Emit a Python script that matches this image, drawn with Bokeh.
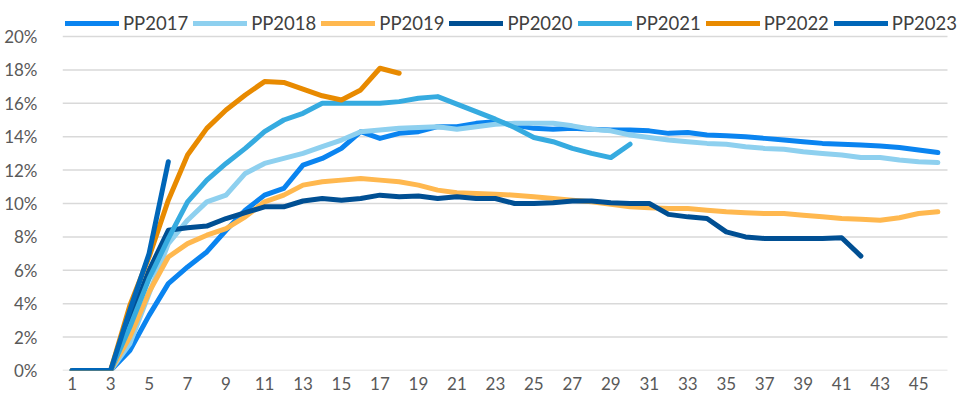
from bokeh.plotting import figure
from bokeh.models import FixedTicker, PrintfTickFormatter, Legend, LegendItem, Range1d
from bokeh.embed import file_html
from bokeh.resources import INLINE

periods = list(range(1, 47))
x_ticks = list(range(1, 47, 2))
y_ticks = list(range(0, 21, 2))

pp2017 = [0, 0, 0, 1.2, 3.3, 5.2, 6.2, 7.1, 8.4, 9.6, 10.5, 10.9, 12.3, 12.7, 13.3, 14.3,
          13.9, 14.2, 14.3, 14.6, 14.6, 14.8, 14.9, 14.7, 14.5, 14.45, 14.5, 14.45, 14.4,
          14.4, 14.35, 14.2, 14.25, 14.1, 14.05, 14.0, 13.9, 13.8, 13.7, 13.6, 13.55, 13.5,
          13.45, 13.35, 13.2, 13.05]
pp2018 = [0, 0, 0, 1.6, 4.6, 7.6, 9.0, 10.1, 10.5, 11.8, 12.4, 12.7, 13.0, 13.4, 13.8, 14.3,
          14.4, 14.5, 14.55, 14.6, 14.45, 14.6, 14.75, 14.8, 14.8, 14.8, 14.65, 14.45, 14.35,
          14.1, 13.95, 13.8, 13.7, 13.6, 13.55, 13.4, 13.3, 13.25, 13.1, 13.0, 12.9, 12.75,
          12.75, 12.6, 12.5, 12.45]
pp2019 = [0, 0, 0, 2.0, 4.7, 6.8, 7.6, 8.1, 8.5, 9.2, 10.1, 10.5, 11.1, 11.3, 11.4, 11.5,
          11.4, 11.3, 11.1, 10.8, 10.65, 10.6, 10.55, 10.5, 10.4, 10.3, 10.2, 10.1, 9.95,
          9.8, 9.75, 9.7, 9.7, 9.6, 9.5, 9.45, 9.4, 9.4, 9.3, 9.2, 9.1, 9.05, 9.0, 9.15,
          9.4, 9.5]
pp2020 = [0, 0, 0, 3.0, 6.0, 8.4, 8.55, 8.65, 9.1, 9.45, 9.8, 9.8, 10.15, 10.3, 10.2, 10.3,
          10.5, 10.4, 10.45, 10.3, 10.4, 10.3, 10.3, 10.0, 10.0, 10.05, 10.15, 10.15, 10.05,
          10.0, 10.0, 9.35, 9.2, 9.1, 8.3, 8.0, 7.9, 7.9, 7.9, 7.9, 7.95, 6.85]
pp2021 = [0, 0, 0, 2.6, 5.5, 7.9, 10.1, 11.4, 12.4, 13.3, 14.3, 15.0, 15.4, 16.0, 16.0, 16.0,
          16.0, 16.1, 16.3, 16.4, 15.95, 15.5, 15.05, 14.55, 13.95, 13.7, 13.3, 13.0, 12.75,
          13.55]
pp2022 = [0, 0, 0, 3.9, 6.8, 10.2, 12.9, 14.5, 15.6, 16.5, 17.3, 17.25, 16.85, 16.45, 16.2,
          16.8, 18.1, 17.8]
pp2023 = [0, 0, 0, 3.6, 7.0, 12.5]

series_names = ["PP2017", "PP2018", "PP2019", "PP2020", "PP2021", "PP2022", "PP2023"]
series_values = [pp2017, pp2018, pp2019, pp2020, pp2021, pp2022, pp2023]
series_colors = ["#0A84F0", "#8ED0EF", "#FFB84F", "#004F93", "#36ABE0", "#E88A00", "#0066B8"]

# frame spans to the right edge so the legend fits inside it; category band is 0.5..46.5
p = figure(frame_width=900, frame_height=370, output_backend="svg", toolbar_location=None,
           x_range=Range1d(0.5, 47.28), y_range=Range1d(0, 22.156),
           min_border_left=62, min_border_right=0, min_border_top=0, min_border_bottom=19)
p.outline_line_color = None
p.background_fill_color = "white"
p.border_fill_color = "white"

# horizontal gridlines across the category band only
p.segment(x0=[0.5] * len(y_ticks), y0=y_ticks, x1=[46.5] * len(y_ticks), y1=y_ticks,
          line_color="#D9D9D9", line_width=1.5)

items = []
for name, vals, color in zip(series_names, series_values, series_colors):
    r = p.line(periods[:len(vals)], vals, line_color=color, line_width=5,
               line_cap="round", line_join="round")
    items.append(LegendItem(label=name, renderers=[r]))

legend = Legend(items=items, orientation="horizontal", location=(3, 336),
                glyph_width=54, glyph_height=20, label_standoff=4, spacing=5,
                padding=0, margin=0, border_line_color=None, background_fill_alpha=0,
                label_text_font="Lato", label_text_font_size="18.5px",
                label_text_color="#404040")
p.add_layout(legend, "center")

p.xaxis.ticker = FixedTicker(ticks=x_ticks)
p.yaxis.ticker = FixedTicker(ticks=y_ticks)
p.yaxis.formatter = PrintfTickFormatter(format="%d%%")
for ax in (p.xaxis, p.yaxis):
    ax.axis_line_color = None
    ax.major_tick_line_color = None
    ax.minor_tick_line_color = None
    ax.major_label_text_font = "Lato"
    ax.major_label_text_font_size = "17px"
    ax.major_label_text_color = "#595959"
p.xaxis.major_label_standoff = 0
p.yaxis.major_label_standoff = 19

p.xgrid.grid_line_color = None
p.ygrid.grid_line_color = None

open("out.html", "w").write(file_html(p, INLINE))
